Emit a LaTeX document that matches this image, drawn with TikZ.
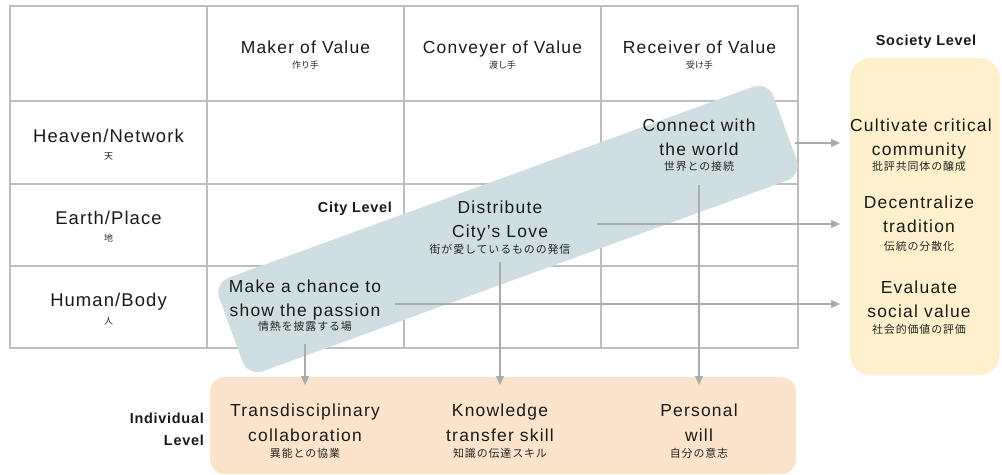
\documentclass[tikz,border=0pt]{standalone}
\usepackage{fontspec}
\setmainfont{Liberation Sans}[LetterSpace=7]
\newfontfamily\rowfont{Liberation Sans}[LetterSpace=6]
\newfontfamily\lvlfont{Liberation Sans}[LetterSpace=5]
\newfontfamily\jpfont{Noto Sans CJK JP}[LetterSpace=8]
\newfontfamily\jphead{Noto Sans CJK JP}
\usetikzlibrary{arrows.meta,calc}

\definecolor{ink}{HTML}{1A1A1A}
\definecolor{jpink}{HTML}{262626}
\definecolor{gridgray}{HTML}{BEBEBE}
\definecolor{arrowgray}{HTML}{ABABAB}
\definecolor{bandblue}{HTML}{CFDEE1}
\definecolor{societyfill}{HTML}{FEF0CC}
\definecolor{individualfill}{HTML}{FBE4CB}

\tikzset{
  en/.style={font=\fontsize{17.5}{20}\selectfont, text=ink, anchor=base, inner sep=0pt},
  rowlabel/.style={en, font=\rowfont\fontsize{18.5}{21}\selectfont},
  jp/.style={font=\jpfont\fontsize{11}{13}\selectfont, text=jpink, anchor=base, inner sep=0pt},
  jphd/.style={font=\jphead\fontsize{9}{11}\selectfont, text=jpink, anchor=base, inner sep=0pt},
  level/.style={font=\lvlfont\bfseries\fontsize{14.5}{17}\selectfont, text=ink, anchor=base, inner sep=0pt},
  gridline/.style={draw=gridgray, line width=1.3pt},
  arr/.style={draw=arrowgray, line width=1.2pt, -{Triangle[length=9pt,width=8pt]}},
  panel/.style={inner sep=0pt, anchor=north west},
}

\begin{document}
\begin{tikzpicture}[x=1bp, y=-1bp]
\useasboundingbox (0,0) rectangle (1002,475);

% table grid
\draw[gridline] (10,6) rectangle (798,348);
\foreach \y in {101,184,266} \draw[gridline] (10,\y) -- (798,\y);
\foreach \x in {207,404,601} \draw[gridline] (\x,6) -- (\x,348);

% column headers
\node[en] (hmaker) at (305.5,54) {Maker of Value};
\node[jphd] (hmakerjp) at (305.5,68.5) {作り手};
\node[en] (hconv) at (502.5,54) {Conveyer of Value};
\node[jphd] (hconvjp) at (502.5,68.5) {渡し手};
\node[en] (hrecv) at (699.5,54) {Receiver of Value};
\node[jphd] (hrecvjp) at (699.5,68.5) {受け手};

% row labels
\node[rowlabel] (rheaven) at (108.5,142.7) {Heaven/Network};
\node[jphd] (rheavenjp) at (108.5,159.5) {天};
\node[rowlabel] (rearth) at (108.5,225) {Earth/Place};
\node[jphd] (rearthjp) at (108.5,241.5) {地};
\node[rowlabel] (rhuman) at (108.5,306.7) {Human/Body};
\node[jphd] (rhumanjp) at (108.5,324.5) {人};

% side panels
\node[panel, fill=societyfill, rounded corners=20pt,
      minimum width=150pt, minimum height=318pt] (soc) at (850,58) {};
\node[panel, fill=individualfill, rounded corners=14pt,
      minimum width=588pt, minimum height=97pt] (ind) at (210,377) {};

% city level band
\node[fill=bandblue, rounded corners=16pt, inner sep=0pt,
      minimum width=592pt, minimum height=100pt, rotate=20] (band) at (508,229) {};

% level labels
\node[level] (socl) at (926,46) {Society Level};
\node[level] (cityl) at (355,213) {City Level};
\node[level, anchor=base east] (indl1) at (204,423.3) {Individual};
\node[level, anchor=base east] (indl2) at (204,445) {Level};

% city level items
\node[en] (conn1) at (699,131.7) {Connect with};
\node[en] (conn2) at (699,155.7) {the world};
\node[jp] (conn3) at (699,171) {世界との接続};
\node[en] (dist1) at (500,214) {Distribute};
\node[en] (dist2) at (500,238) {City’s Love};
\node[jp] (dist3) at (500,254) {街が愛しているものの発信};
\node[en] (make1) at (305,292.3) {Make a chance to};
\node[en] (make2) at (305,316.7) {show the passion};
\node[jp] (make3) at (305,331) {情熱を披露する場};

% society level items
\node[en] (cult1) at (921,131.7) {Cultivate critical};
\node[en] (cult2) at (919,155.7) {community};
\node[jp] (cult3) at (919,171) {批評共同体の醸成};
\node[en] (dec1) at (919,209) {Decentralize};
\node[en] (dec2) at (919,233) {tradition};
\node[jp] (dec3) at (919,250.5) {伝統の分散化};
\node[en] (eval1) at (919,293.3) {Evaluate};
\node[en] (eval2) at (919,317.3) {social value};
\node[jp] (eval3) at (919,334) {社会的価値の評価};

% individual level items
\node[en] (trans1) at (305,416.7) {Transdisciplinary};
\node[en] (trans2) at (305,441) {collaboration};
\node[jp] (trans3) at (305,457) {異能との協業};
\node[en] (know1) at (500,416.7) {Knowledge};
\node[en] (know2) at (500,441) {transfer skill};
\node[jp] (know3) at (500,457) {知識の伝達スキル};
\node[en] (pers1) at (699,416.7) {Personal};
\node[en] (pers2) at (699,441) {will};
\node[jp] (pers3) at (699,457) {自分の意志};

% arrows towards the society level
\coordinate (connout) at (795,143);
\coordinate (distout) at (597,224);
\coordinate (makeout) at (395,304);
\draw[arr, shorten >=10pt] (connout) -- (connout -| soc.west);
\draw[arr, shorten >=10pt] (distout) -- (distout -| soc.west);
\draw[arr, shorten >=10pt] (makeout) -- (makeout -| soc.west);

% arrows towards the individual level
\draw[arr, shorten <=12pt, shorten >=-8pt] (make3.south) -- (make3.south |- ind.north);
\draw[arr, shorten <=7pt, shorten >=-8pt] (dist3.south) -- (dist3.south |- ind.north);
\draw[arr, shorten <=13pt, shorten >=-8pt] (conn3.south) -- (conn3.south |- ind.north);
\end{tikzpicture}
\end{document}
